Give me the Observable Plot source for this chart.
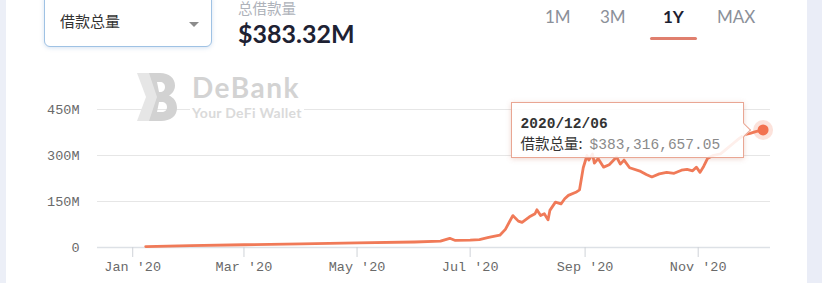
<!DOCTYPE html>
<html>
<head>
<meta charset="utf-8">
<script src="https://cdn.jsdelivr.net/npm/d3@7"></script>
<script src="https://cdn.jsdelivr.net/npm/@observablehq/plot@0.6"></script>
<style>
  html, body { margin: 0; padding: 0; background: #fff; width: 822px; height: 283px; overflow: hidden; }
  #wrap { position: relative; width: 822px; height: 283px; }
  .strip { position: absolute; top: 0; height: 283px; background: #eceff7; }
  #select {
    position: absolute; left: 44px; top: -8px; width: 166px; height: 53px;
    border: 1px solid #9fc2e4; border-radius: 6px; background: #fff;
    box-shadow: 0 1px 4px rgba(90,140,200,0.25);
    font-family: "Noto Sans CJK SC", sans-serif; font-size: 15px; color: #333;
  }
  #select span { position: absolute; left: 15px; top: 20px; line-height: 1; }
  #select .caret { position: absolute; left: 144px; top: 29px; width: 0; height: 0;
    border-left: 5px solid transparent; border-right: 5px solid transparent; border-top: 5px solid #8c8c8c; }
  #metricName { position: absolute; left: 238px; top: 1px; font-family: "Noto Sans CJK SC", sans-serif;
    font-size: 14.5px; line-height: 1; color: #aeb2ba; }
  #metricValue { position: absolute; left: 238px; top: 21px; font-family: Lato, sans-serif;
    font-size: 25px; font-weight: 700; line-height: 1; color: #1e2233; }
  .tab { position: absolute; top: 8px; font-family: Lato, sans-serif; font-size: 17px; line-height: 1; color: #8b9099; }
  .tab.active { color: #1c2030; font-weight: 700; }
  #underline { position: absolute; top: 37px; height: 3px; border-radius: 2px; background: #e07f6e; }
  #chart { position: absolute; left: 0; top: 0; }
  #mark { position: absolute; left: 137px; top: 73px; }
  #markText { position: absolute; left: 190px; top: 73px; background: #fff; padding: 0 2px; }
  #markText .t1 { font-family: Lato, sans-serif; font-weight: 700; font-size: 28px; line-height: 28px; height: 29px; color: #d3d3d3; letter-spacing: 1.5px; }
  #markText .t2 { font-family: Lato, sans-serif; font-weight: 700; font-size: 14px; line-height: 14px; color: #dadada; letter-spacing: 0.3px; margin-top: 4px; }
  #tip {
    position: absolute; width: 233px; height: 56px; box-sizing: border-box;
    background: rgba(255,255,255,0.88); border: 1px solid #e9a693;
    box-shadow: 0 1px 5px rgba(200,120,100,0.3);
    font-family: "Liberation Mono", monospace; font-size: 14.5px; color: #333;
  }
  #tip::after {
    content: ""; position: absolute; right: -6px; top: 22px; width: 9px; height: 9px;
    background: rgba(255,255,255,0.95); border-top: 1px solid #e9a693; border-right: 1px solid #e9a693;
    transform: rotate(45deg);
  }
  #tip .d { position: absolute; left: 9px; top: 14px; line-height: 1; font-weight: 700; color: #333; }
  #tip .v { position: absolute; left: 9px; top: 33px; line-height: 1; white-space: nowrap; }
  #tip .v .k { font-family: "Noto Sans CJK SC", sans-serif; font-size: 14.5px; color: #333; }
  #tip .v .n { color: #8a8a8a; margin-left: 7px; }
</style>
</head>
<body>
<div id="wrap">
  <div class="strip" style="left:0;width:6px"></div>
  <div class="strip" style="left:807px;width:15px;background:#eaedf7"></div>
  <div id="chart"></div>
  <div id="mark">
    <svg width="40" height="48" viewBox="0 0 40 48">
      <path fill="#e6e6e6" d="M0,0 H14 L22,24 L14,48 H0 L9,24 Z"/>
      <path fill="#d2d2d2" fill-rule="evenodd" d="M12,0 H23 C32,0 38,5 38,12.5 C38,17 35.5,20.5 32,22.5 C36.5,24.5 40,28.5 40,35 C40,43 33.5,48 24,48 H12 L20,24 Z M20,9 H23 C26,9 28,11 28,14 C28,17 26,19 23,19 H22 Z M22,29 H24.5 C28,29 30,31 30,34 C30,37 28,39 24.5,39 H20 Z"/>
    </svg>
  </div>
  <div id="markText"><div class="t1">DeBank</div><div class="t2">Your DeFi Wallet</div></div>
  <div id="select"><span>借款总量</span><i class="caret"></i></div>
  <div id="metricName">总借款量</div>
  <div id="metricValue"></div>
  <div id="tabs"></div>
  <div id="underline"></div>
  <div id="tip"><div class="d"></div><div class="v"><span class="k">借款总量:</span><span class="n"></span></div></div>
</div>
<script>
// Total borrowed over the past year, in millions of USD
const dates = ["2020-01-08","2020-02-01","2020-03-01","2020-04-01","2020-05-01","2020-06-01","2020-06-15","2020-06-20","2020-06-23","2020-07-01",
  "2020-07-06","2020-07-11","2020-07-17","2020-07-20","2020-07-24","2020-07-27","2020-07-29","2020-08-02","2020-08-05","2020-08-06",
  "2020-08-08","2020-08-10","2020-08-12","2020-08-13","2020-08-16","2020-08-19","2020-08-21","2020-08-23","2020-08-27","2020-08-29",
  "2020-08-31","2020-09-02","2020-09-03","2020-09-05","2020-09-06","2020-09-08","2020-09-11","2020-09-14","2020-09-18","2020-09-20",
  "2020-09-22","2020-09-25","2020-10-01","2020-10-04","2020-10-07","2020-10-11","2020-10-15","2020-10-19","2020-10-23","2020-10-26",
  "2020-10-29","2020-10-31","2020-11-02","2020-11-04","2020-11-06","2020-11-09","2020-11-13","2020-11-16","2020-11-20","2020-11-23",
  "2020-11-26","2020-11-29","2020-12-02","2020-12-06"];
const borrowedM = [3,6,9,12,15,18,21,30,23,24,
  26,33,40,59,104,86,82,100,110,123,
  104,110,90,121,148,142,159,170,180,188,
  260,300,285,305,275,290,262,270,295,272,
  285,260,248,238,230,240,245,242,252,255,
  250,262,245,265,290,300,305,320,340,355,
  368,372,378,383.31665705];

const yTicks = [0, 150, 300, 450];
const yTickLabels = ["0", "150M", "300M", "450M"];
const ranges = ["1M", "3M", "1Y", "MAX"];
const activeRange = "1Y";
const metricLabel = "借款总量";

const data = dates.map((d, i) => ({date: new Date(d + "T00:00:00Z"), value: borrowedM[i]}));
const last = data[data.length - 1];

const lineColor = "#f07a58";

const chart = Plot.plot({
  width: 822,
  height: 283,
  marginLeft: 97,
  marginRight: 52,
  marginTop: 109,
  marginBottom: 36,
  style: {fontFamily: "'Liberation Mono', monospace", fontSize: "13.5px", color: "#6a6a6a", background: "transparent", overflow: "visible"},
  x: {type: "utc", domain: [new Date("2019-12-13T00:00:00Z"), new Date("2020-12-10T00:00:00Z")]},
  y: {domain: [0, 450]},
  marks: [
    Plot.gridY(yTicks.slice(1), {stroke: "#e6e6e6", strokeOpacity: 1}),
    Plot.ruleY([0], {stroke: "#dde1e6", strokeWidth: 1.5}),
    Plot.axisY(yTicks, {tickSize: 0, tickPadding: 18, label: null,
      tickFormat: (d) => yTickLabels[yTicks.indexOf(d)]}),
    Plot.axisX({ticks: d3.utcMonth.every(2), tickFormat: d3.utcFormat("%b '%y"),
      tickSize: 10, tickPadding: 4, stroke: "#cfd3d8", label: null}),
    Plot.lineY(data, {x: "date", y: "value", stroke: lineColor, strokeWidth: 2.8, strokeLinejoin: "round"}),
    Plot.dot([last], {x: "date", y: "value", r: 10, fill: "#f2795c", fillOpacity: 0.22, stroke: null}),
    Plot.dot([last], {x: "date", y: "value", r: 5.5, fill: "#f2714f", stroke: null})
  ]
});
document.getElementById("chart").append(chart);

// Header and range tabs
const fullValue = last.value * 1e6;
document.getElementById("metricValue").textContent = "$" + (last.value).toFixed(2) + "M";
const tabLefts = [545, 600, 663, 717];
const tabs = document.getElementById("tabs");
ranges.forEach((r, i) => {
  const el = document.createElement("div");
  el.className = "tab" + (r === activeRange ? " active" : "");
  el.style.left = tabLefts[i] + "px";
  el.textContent = r;
  tabs.append(el);
});
const ul = document.getElementById("underline");
const ai = ranges.indexOf(activeRange);
ul.style.left = (tabLefts[ai] - 13) + "px";
ul.style.width = "47px";

// Tooltip anchored to the last point
const xs = chart.scale("x"), ys = chart.scale("y");
const px = xs.apply(last.date), py = ys.apply(last.value);
const tip = document.getElementById("tip");
tip.style.left = (px - 252) + "px";
tip.style.top = (py - 27) + "px";
tip.querySelector(".d").textContent = d3.utcFormat("%Y/%m/%d")(last.date);
tip.querySelector(".n").textContent = "$" + fullValue.toLocaleString("en-US", {minimumFractionDigits: 2, maximumFractionDigits: 2});
tip.querySelector(".k").textContent = metricLabel + ":";
</script>
</body>
</html>
